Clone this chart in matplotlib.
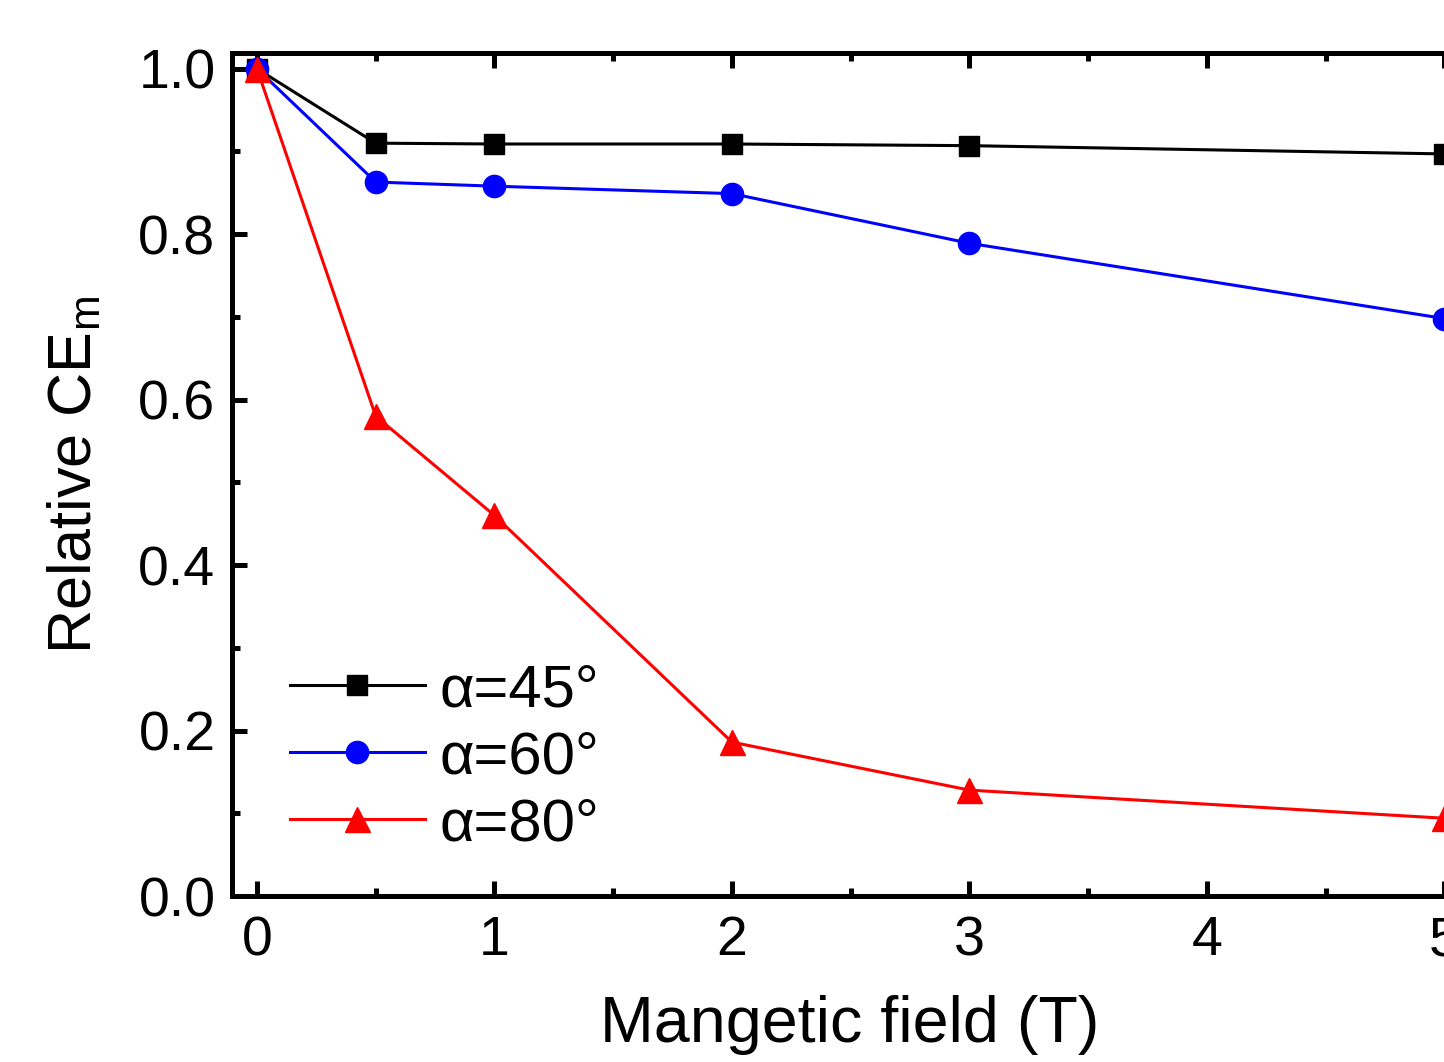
import matplotlib
matplotlib.use("Agg")
import matplotlib.pyplot as plt
from matplotlib.ticker import MultipleLocator

plt.rcParams['font.family'] = ['Liberation Sans', 'DejaVu Sans']
plt.rcParams['mathtext.default'] = 'regular'

# field (T)
field = [0, 0.5, 1, 2, 3, 5]
# relative CE_m for each angle
ce45 = [1.0, 0.910, 0.909, 0.909, 0.907, 0.897]
ce60 = [1.0, 0.863, 0.858, 0.849, 0.789, 0.698]
ce80 = [1.0, 0.580, 0.460, 0.186, 0.128, 0.094]
labels = ["α=45°", "α=60°", "α=80°"]

fig = plt.figure(figsize=(14.44, 10.62), dpi=100)
ax = fig.add_axes([0.1607, 0.1563, 0.856, 0.7938])

ax.plot(field, ce45, color='black', lw=2.2, marker='s', ms=15, label=labels[0])
ax.plot(field, ce60, color='blue', lw=2.2, marker='o', ms=16, label=labels[1])
ax.plot(field, ce80, color='red', lw=2.2, marker='^', ms=18, label=labels[2])

ax.set_xlim(-0.105, 5.1)
ax.set_ylim(0, 1.019)
ax.xaxis.set_major_locator(MultipleLocator(1))
ax.xaxis.set_minor_locator(MultipleLocator(0.5))
ax.yaxis.set_major_locator(MultipleLocator(0.2))
ax.yaxis.set_minor_locator(MultipleLocator(0.1))
ax.yaxis.set_major_formatter(matplotlib.ticker.FormatStrFormatter('%.1f'))

ax.tick_params(which='both', direction='in', top=True, right=True, width=3.6, labelsize=40)
ax.tick_params(which='major', length=11, pad=14)
ax.tick_params(axis='y', which='major', pad=12)
ax.tick_params(which='minor', length=6)
for s in ax.spines.values():
    s.set_linewidth(3.6)

ax.set_xlabel("Mangetic field (T)", fontsize=46.5, labelpad=20)
ax.set_ylabel("Relative CE$_{m}$", fontsize=44, labelpad=24)

ax.legend(loc='lower left', bbox_to_anchor=(0.047, 0.052), frameon=False,
          fontsize=43, borderpad=0, borderaxespad=0, handlelength=2.25,
          handletextpad=0.25, labelspacing=0.2)

fig.savefig("out.png", dpi=100)
